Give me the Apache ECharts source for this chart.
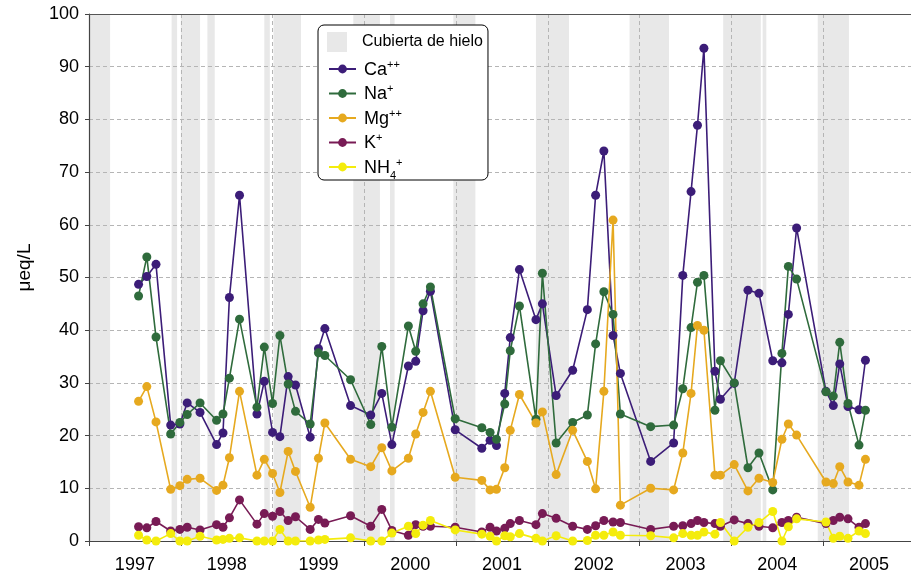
<!DOCTYPE html>
<html>
<head>
<meta charset="utf-8">
<script src="https://cdn.jsdelivr.net/npm/echarts@6/dist/echarts.min.js"></script>
<style>
  html, body { margin: 0; padding: 0; background: #fff; overflow: hidden; }
  #chart { width: 915px; height: 579px; }
</style>
</head>
<body>
<div id="chart"></div>
<script>
// fechas de muestreo (año decimal)
var fechas = [
  1997.54, 1997.63, 1997.73, 1997.89, 1997.99, 1998.07, 1998.21, 1998.39, 1998.46, 1998.53,
  1998.64, 1998.83, 1998.91, 1999.00, 1999.08, 1999.17, 1999.25, 1999.41, 1999.50, 1999.57,
  1999.85, 2000.07, 2000.19, 2000.30, 2000.48, 2000.56, 2000.64, 2000.72, 2000.99, 2001.28,
  2001.37, 2001.44, 2001.53, 2001.59, 2001.69, 2001.87, 2001.94, 2002.09, 2002.27, 2002.43,
  2002.52, 2002.61, 2002.71, 2002.79, 2003.12, 2003.37, 2003.47, 2003.56, 2003.63, 2003.70,
  2003.82, 2003.88, 2004.03, 2004.18, 2004.30, 2004.45, 2004.55, 2004.62, 2004.71, 2005.03,
  2005.11, 2005.18, 2005.27, 2005.39, 2005.46
];
var ca = [
  48.7, 50.2, 52.5, 22.0, 22.2, 26.2, 24.4, 18.3, 20.5, 46.2,
  65.6, 24.1, 30.3, 20.6, 19.8, 31.2, 29.6, 19.7, 36.5, 40.3,
  25.7, 23.9, 28.0, 18.3, 33.2, 34.1, 43.7, 47.4, 21.1, 17.6,
  19.1, 18.1, 28.0, 38.6, 51.5, 42.0, 45.0, 27.6, 32.4, 43.9,
  65.6, 74.0, 39.0, 31.8, 15.1, 18.6, 50.4, 66.3, 78.9, 93.5,
  32.2, 26.9, 29.9, 47.6, 47.0, 34.2, 33.8, 43.0, 59.4, 28.4,
  25.7, 33.6, 25.5, 24.9, 34.3
];
var na = [
  46.5, 53.9, 38.7, 20.3, 22.5, 24.0, 26.2, 22.9, 24.1, 30.9,
  42.1, 25.4, 36.8, 26.1, 39.0, 29.8, 24.6, 22.2, 35.7, 35.2,
  30.6, 22.1, 36.9, 21.6, 40.8, 36.0, 45.0, 48.2, 23.2, 21.5,
  20.6, 19.3, 26.0, 36.1, 44.6, 23.1, 50.8, 18.6, 22.5, 23.9,
  37.4, 47.3, 43.0, 24.1, 21.7, 22.0, 28.9, 40.5, 49.1, 50.4,
  24.8, 34.2, 30.0, 13.9, 16.7, 9.7, 35.6, 52.1, 49.7, 28.3,
  27.5, 37.7, 26.1, 18.2, 24.8
];
var mg = [
  26.5, 29.3, 22.6, 9.8, 10.5, 11.7, 11.9, 9.6, 10.6, 15.8,
  28.4, 12.5, 15.5, 12.8, 9.2, 17.0, 13.2, 6.4, 15.7, 22.4,
  15.5, 14.1, 17.7, 13.3, 15.7, 20.3, 24.4, 28.4, 12.1, 11.5,
  9.7, 9.8, 13.9, 21.0, 27.8, 22.4, 24.5, 12.6, 21.0, 15.1,
  9.9, 28.4, 60.9, 6.8, 10.0, 9.7, 16.7, 28.0, 40.9, 40.0,
  12.5, 12.5, 14.5, 9.5, 11.9, 11.1, 19.3, 22.2, 20.1, 11.2,
  10.9, 14.1, 11.2, 10.6, 15.5
];
var k = [
  2.7, 2.5, 3.7, 1.9, 2.2, 2.6, 2.1, 3.1, 2.6, 4.4,
  7.8, 3.2, 5.2, 4.7, 5.6, 3.9, 4.6, 2.2, 4.1, 3.4,
  4.8, 2.8, 6.0, 2.0, 1.1, 3.1, 2.8, 2.8, 2.6, 1.7,
  2.6, 1.9, 2.4, 3.3, 3.9, 3.1, 5.2, 4.3, 2.8, 2.2,
  2.9, 3.9, 3.6, 3.5, 2.2, 2.8, 2.9, 3.3, 3.9, 3.5,
  3.3, 2.8, 4.0, 3.3, 2.8, 2.5, 3.5, 3.9, 4.5, 3.3,
  3.9, 4.5, 4.2, 2.6, 3.3
];
var nh4 = [
  1.1, 0.2, 0, 1.4, 0, 0, 0.9, 0.2, 0.3, 0.5,
  0.6, 0, 0, 0, 2.2, 0, 0, 0, 0.2, 0.3,
  0.6, 0, 0, 1.5, 2.8, 1.4, 3.0, 3.9, 2.1, 1.3,
  0.9, 0, 1.0, 0.8, 1.4, 0.5, 0, 1.0, 0, 0.1,
  1.1, 1.1, 1.7, 1.1, 1.0, 0.6, 1.4, 1.1, 1.1, 1.7,
  1.3, 3.5, 0, 2.6, 3.5, 5.6, 0, 2.7, 4.2, 3.6,
  0.5, 0.9, 0.5, 1.9, 1.4
];
// periodos con cubierta de hielo
var hieloInicio = [1997.00, 1997.90, 1998.00, 1998.29, 1998.91, 1999.01, 1999.88, 2000.28, 2000.97, 2001.87, 2002.89, 2003.91, 2004.34, 2004.94];
var hieloFin    = [1997.23, 1997.96, 1998.21, 1998.37, 1998.97, 1999.31, 2000.17, 2000.33, 2001.21, 2002.23, 2003.32, 2004.32, 2004.38, 2005.28];
var anios = ['1997', '1998', '1999', '2000', '2001', '2002', '2003', '2004', '2005'];

var chart = echarts.init(document.getElementById('chart'));

var iones = [
  ['Ca', ca, '#3c1d78', '{b|Ca}{sup|++}'],
  ['Na', na, '#2f6b3c', '{b|Na}{sup|+}'],
  ['Mg', mg, '#e6a91f', '{b|Mg}{sup|++}'],
  ['K', k, '#781b55', '{b|K}{sup|+}'],
  ['NH4', nh4, '#f4ec0c', '{b|NH}{sub|4}{sup|+}']
];
var etiquetas = {};

var series = [{
  name: 'Cubierta de hielo',
  type: 'line',
  data: [],
  silent: true,
  markArea: {
    silent: true,
    itemStyle: { color: '#e8e8e8' },
    data: hieloInicio.map(function (a, i) {
      return [{ xAxis: a }, { xAxis: hieloFin[i] }];
    })
  }
}];
iones.forEach(function (it) {
  etiquetas[it[0]] = it[3];
  series.push({
    name: it[0],
    type: 'line',
    z: 3,
    symbol: 'circle',
    symbolSize: 9,
    itemStyle: { color: it[2] },
    lineStyle: { color: it[2], width: 1.6 },
    data: fechas.map(function (f, i) { return [f, it[1][i]]; })
  });
});

var textoRico = {
  b: { fontSize: 18, fontFamily: 'Liberation Sans', color: '#000', lineHeight: 20, verticalAlign: 'bottom' },
  sup: { fontSize: 11, fontFamily: 'Liberation Sans', color: '#000', lineHeight: 11, verticalAlign: 'top' },
  sub: { fontSize: 11, fontFamily: 'Liberation Sans', color: '#000', lineHeight: 11, verticalAlign: 'bottom', padding: [0, 0, -4, 0] }
};

var option = {
  animation: false,
  textStyle: { fontFamily: 'Liberation Sans' },
  grid: { left: 89, right: 0, top: 14, bottom: 38 },
  legend: [{
    left: 318, top: 25,
    padding: [7, 5, 128, 9],
    backgroundColor: '#fff',
    borderColor: '#000', borderWidth: 1, borderRadius: 6,
    itemWidth: 22, itemHeight: 20,
    textStyle: { fontSize: 16, color: '#000', padding: [0, 0, 0, 9] },
    data: [{ name: 'Cubierta de hielo', icon: 'path://M0 0H10V10H0Z', itemStyle: { color: '#e8e8e8' } }]
  }, {
    left: 328, top: 59,
    orient: 'vertical',
    padding: 0,
    itemWidth: 27, itemHeight: 11, itemGap: 4.5,
    textStyle: { color: '#000', padding: [0, 0, 0, 3], rich: textoRico },
    formatter: function (n) { return etiquetas[n]; },
    data: ['Ca', 'Na', 'Mg', 'K', 'NH4']
  }],
  xAxis: [{
    type: 'value',
    min: 1997, max: 2006, interval: 1,
    z: 2,
    axisLine: { lineStyle: { color: '#444', width: 1.2 } },
    axisTick: { show: true, length: 5, lineStyle: { color: '#444' } },
    axisLabel: { show: false },
    splitLine: { show: true, lineStyle: { color: '#b5b5b5', type: [4, 3] } }
  }, {
    type: 'category',
    position: 'bottom',
    data: anios,
    boundaryGap: true,
    axisLine: { show: false },
    axisTick: { show: false },
    axisLabel: { fontSize: 18, color: '#000', margin: 15 },
    splitLine: { show: false }
  }, {
    type: 'value',
    position: 'top',
    min: 1997, max: 2006,
    z: 2,
    axisLine: { show: true, lineStyle: { color: '#555', width: 1.2 } },
    axisTick: { show: false },
    axisLabel: { show: false },
    splitLine: { show: false }
  }],
  yAxis: {
    type: 'value',
    min: 0, max: 100, interval: 10,
    z: 2,
    name: 'μeq/L',
    nameLocation: 'middle',
    nameGap: 55,
    nameRotate: 90,
    nameTextStyle: { fontSize: 19, color: '#000', padding: [0, 0, 0, 20] },
    axisLine: { show: true, lineStyle: { color: '#444', width: 1.2 } },
    axisTick: { show: true, length: 4, lineStyle: { color: '#444' } },
    axisLabel: { fontSize: 18, color: '#000', margin: 10 },
    splitLine: { show: true, lineStyle: { color: '#b5b5b5', type: [4, 3] } }
  },
  series: series
};
chart.setOption(option);
</script>
</body>
</html>
